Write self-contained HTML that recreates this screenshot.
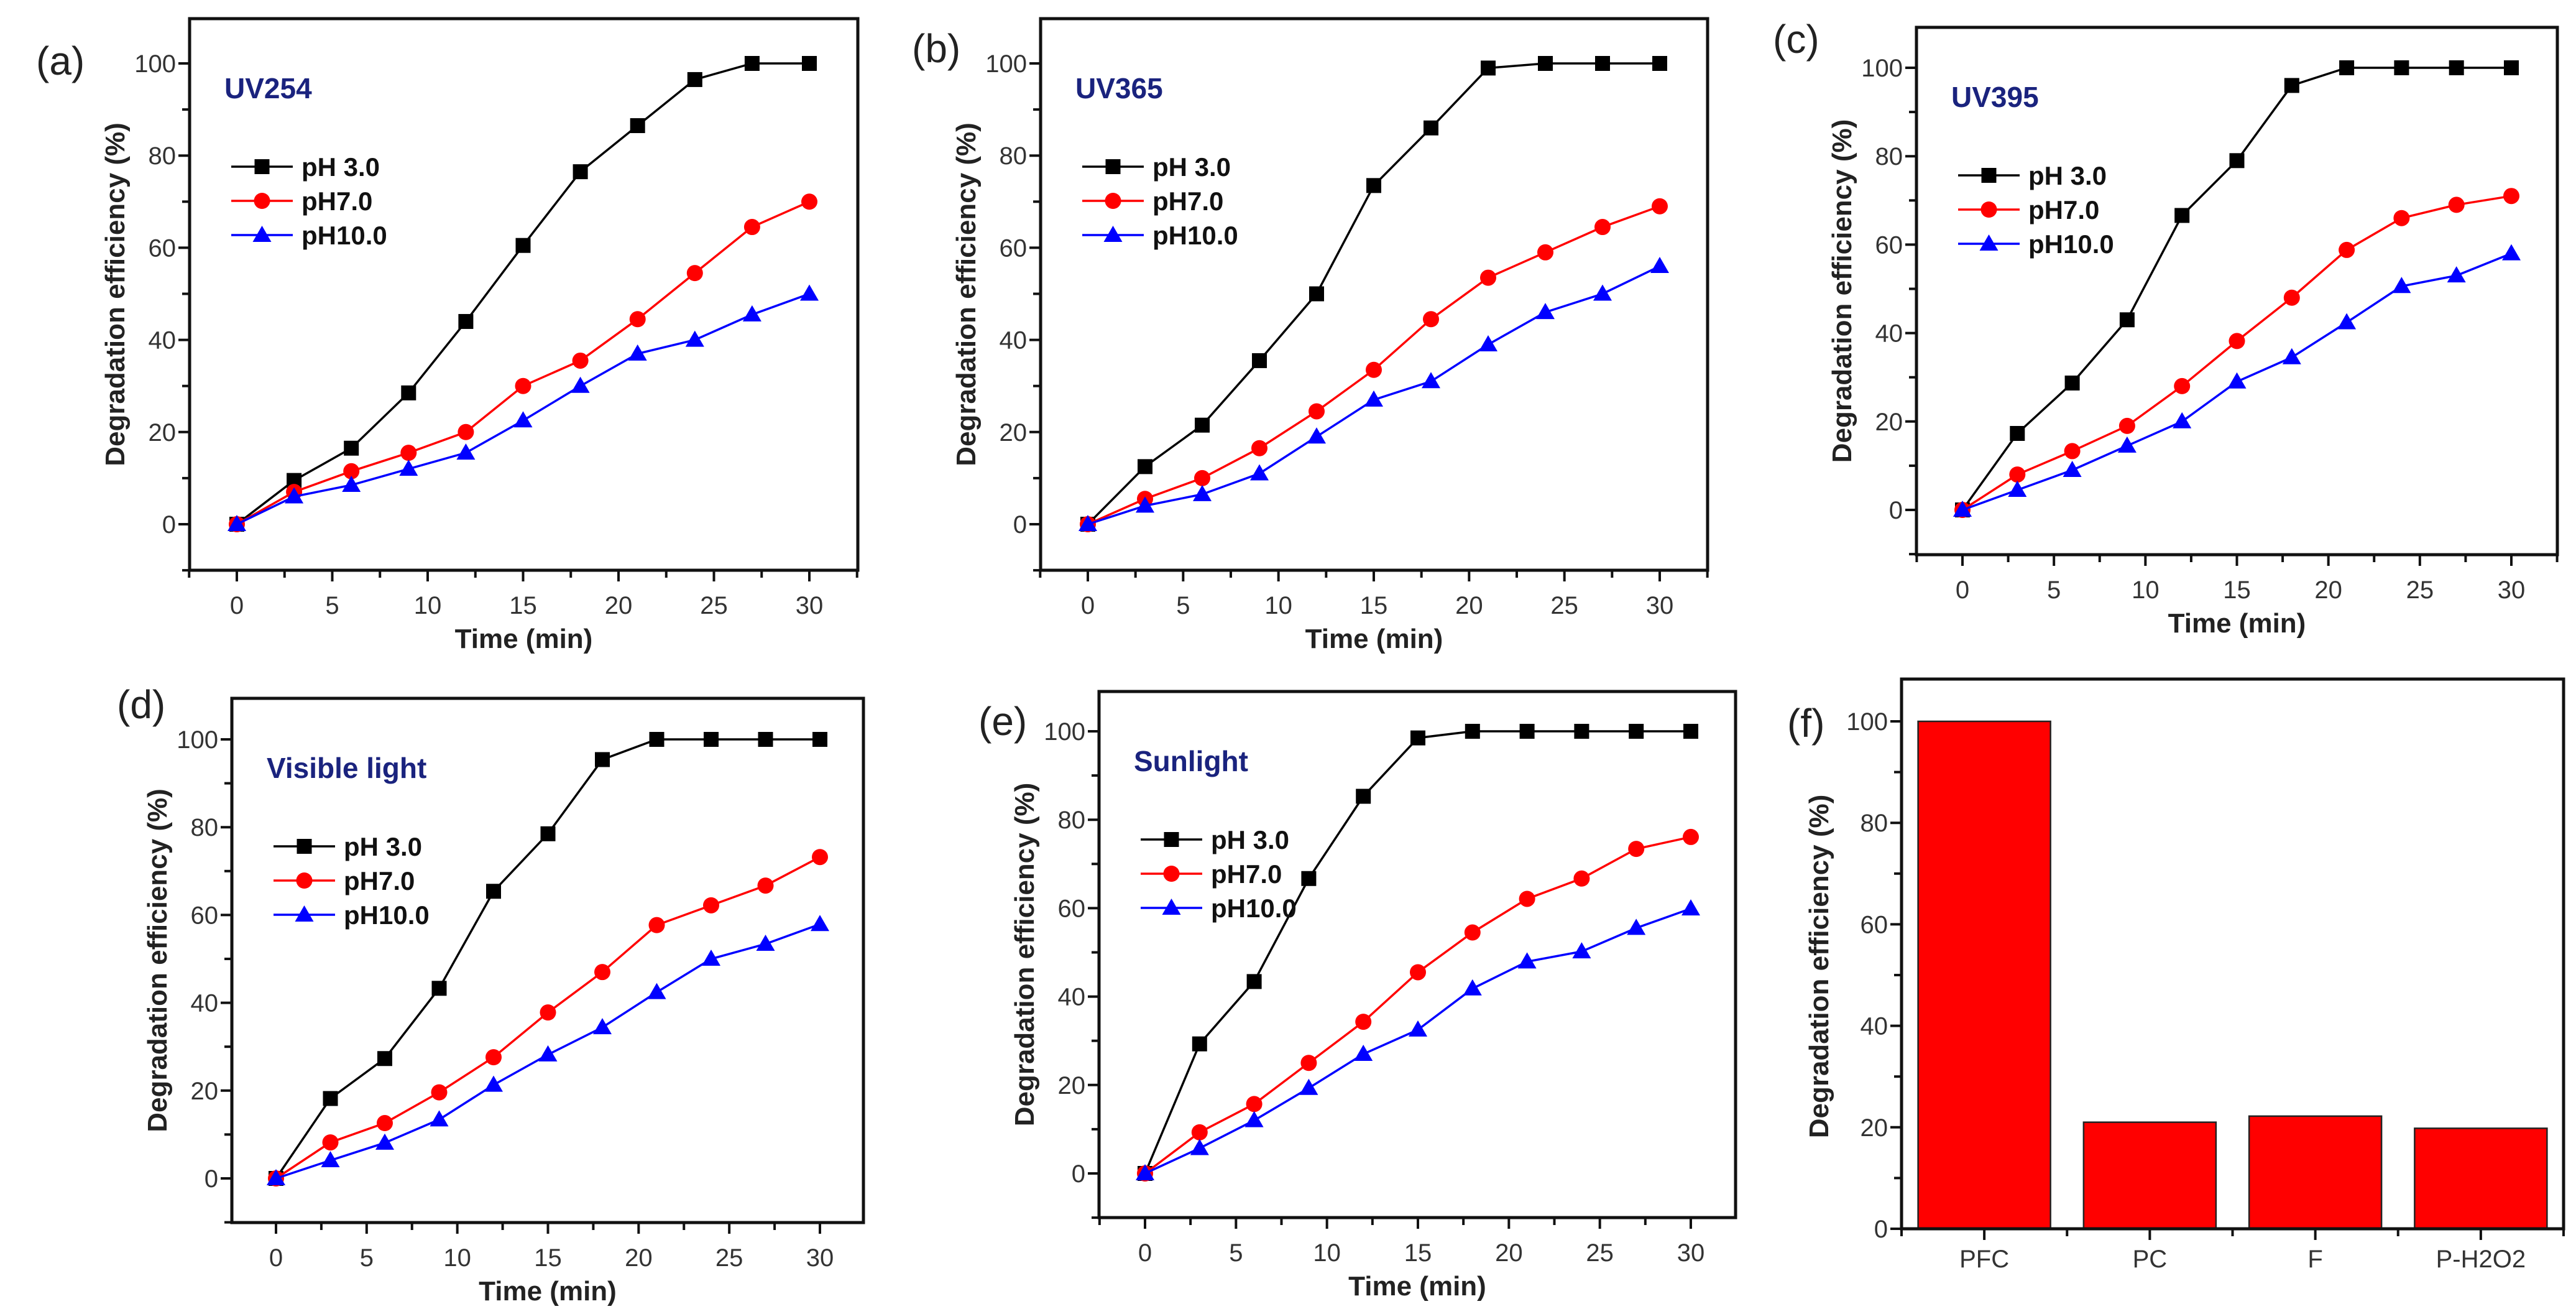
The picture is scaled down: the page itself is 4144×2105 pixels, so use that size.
<!DOCTYPE html>
<html><head><meta charset="utf-8"><style>
html,body{margin:0;padding:0;background:#fff;}
svg{display:block;}
text{font-family:"Liberation Sans Narrow","Liberation Sans",sans-serif;}
</style></head><body>
<svg id="fig" xmlns="http://www.w3.org/2000/svg" width="4144" height="2105" viewBox="0 0 4144 2105"></svg>
<script>
const timeMin = [0,3,6,9,12,15,18,21,24,27,30];
const xTickLabels = ["0","5","10","15","20","25","30"];
const yTickLabels = ["0","20","40","60","80","100"];
const seriesNames = ["pH 3.0","pH7.0","pH10.0"];

const uv254_pH3 = [0,9.5,16.5,28.5,44,60.5,76.5,86.5,96.5,100,100];
const uv254_pH7 = [0,7,11.5,15.5,20,30,35.5,44.5,54.5,64.5,70];
const uv254_pH10 = [0,6,8.5,12,15.5,22.5,30,37,40,45.5,50];

const uv365_pH3 = [0,12.5,21.5,35.5,50,73.5,86,99,100,100,100];
const uv365_pH7 = [0,5.5,10,16.5,24.5,33.5,44.5,53.5,59,64.5,69];
const uv365_pH10 = [0,4,6.5,11,19,27,31,39,46,50,56];

const uv395_pH3 = [0,17.3,28.7,43,66.6,79,96,100,100,100,100];
const uv395_pH7 = [0,8,13.3,19,28,38.2,48,58.8,66,69,71];
const uv395_pH10 = [0,4.5,9,14.5,20,29,34.5,42.4,50.6,53,58];

const vis_pH3 = [0,18.2,27.3,43.3,65.4,78.5,95.4,100,100,100,100];
const vis_pH7 = [0,8.2,12.6,19.6,27.6,37.8,47,57.7,62.2,66.7,73.2];
const vis_pH10 = [0,4.1,8.1,13.4,21.3,28.2,34.4,42.4,50,53.4,57.9];

const sun_pH3 = [0,29.3,43.4,66.7,85.3,98.5,100,100,100,100,100];
const sun_pH7 = [0,9.3,15.7,25,34.3,45.5,54.5,62.1,66.7,73.4,76.1];
const sun_pH10 = [0,5.7,12,19.3,27,32.5,41.8,47.9,50.2,55.5,59.9];

const barCategories = ["PFC","PC","F","P-H2O2"];
const barValues = [100,21,22.2,19.8];

const NS="http://www.w3.org/2000/svg";
const svg=document.getElementById('fig');
function mk(tag,attrs,parent){const e=document.createElementNS(NS,tag);for(const k in attrs)e.setAttribute(k,attrs[k]);(parent||svg).appendChild(e);return e;}

const panels=[
 {id:'a',label:'(a)',lx:58,ly:120,title:'UV254',L:305,R:1380,T:30,B:917,x0:381,x30:1302,y0:843,y100:102,s:[uv254_pH3,uv254_pH7,uv254_pH10]},
 {id:'b',label:'(b)',lx:1467,ly:100,title:'UV365',L:1674,R:2747,T:30,B:917,x0:1750,x30:2670,y0:843,y100:102,s:[uv365_pH3,uv365_pH7,uv365_pH10]},
 {id:'c',label:'(c)',lx:2852,ly:85,title:'UV395',L:3083,R:4114,T:44,B:892,x0:3157,x30:4040,y0:820,y100:109,s:[uv395_pH3,uv395_pH7,uv395_pH10]},
 {id:'d',label:'(d)',lx:188,ly:1155,title:'Visible light',L:373,R:1389,T:1123,B:1966,x0:444,x30:1319,y0:1895,y100:1189,s:[vis_pH3,vis_pH7,vis_pH10]},
 {id:'e',label:'(e)',lx:1574,ly:1182,title:'Sunlight',L:1768,R:2792,T:1112,B:1958,x0:1842,x30:2720,y0:1887,y100:1176,s:[sun_pH3,sun_pH7,sun_pH10]}
];
const colors=['#000000','#ff0000','#0000ff'];
const shapes=['square','circle','triangle'];

function marker(g,shape,cx,cy,color){
  let m;
  if(shape==='square') m=mk('rect',{x:cx-12,y:cy-12,width:24,height:24,fill:color},g);
  else if(shape==='circle') m=mk('circle',{cx:cx,cy:cy,r:13,fill:color},g);
  else m=mk('polygon',{points:`${cx},${cy-15} ${cx+15},${cy+11} ${cx-15},${cy+11}`,fill:color},g);
  return m;
}

panels.forEach(p=>{
  const g=mk('g',{});
  
  
  const xs=v=>p.x0+(p.x30-p.x0)*v/30;
  const ys=v=>p.y0+(p.y100-p.y0)*v/100;
  const lab=mk('text',{x:p.lx,y:p.ly,'font-size':64,fill:'#222','font-family':'Liberation Sans, sans-serif'},g);
  lab.textContent=p.label;
  
  
  const fr=mk('rect',{x:p.L,y:p.T,width:p.R-p.L,height:p.B-p.T,fill:'none',stroke:'#111','stroke-width':5},g);
  
  
  // x ticks
  for(let v=-2.5;v<=32.5;v+=2.5){
    const x=xs(v); if(x<p.L-1||x>p.R+1) continue;
    const major=Math.abs(v%5)<0.01;
    mk('line',{x1:x,y1:p.B,x2:x,y2:p.B+(major?18:12),stroke:'#111','stroke-width':4},g);
  }
  xTickLabels.forEach((t,i)=>{
    const tx=mk('text',{x:xs(i*5),y:p.B+70,'font-size':40,'text-anchor':'middle',fill:'#333'},g);
    tx.textContent=t;
    
    
  });
  for(let v=-10;v<=110;v+=10){
    const y=ys(v); if(y>p.B+1||y<p.T-1) continue;
    const major=v%20===0;
    mk('line',{x1:p.L,y1:y,x2:p.L-(major?18:12),y2:y,stroke:'#111','stroke-width':4},g);
  }
  yTickLabels.forEach((t,i)=>{
    const ty=mk('text',{x:p.L-22,y:ys(i*20)+14,'font-size':40,'text-anchor':'end',fill:'#333'},g);
    ty.textContent=t;
    
    
  });
  const xt=mk('text',{x:(p.L+p.R)/2,y:p.B+125,'font-size':44,'font-weight':'bold','text-anchor':'middle',fill:'#222'},g);
  xt.textContent='Time (min)';
  
  
  const ycx=p.L-105, ycy=(p.T+p.B)/2;
  const yt=mk('text',{x:ycx,y:ycy,'font-size':44,'font-weight':'bold','text-anchor':'middle',fill:'#222',transform:`rotate(-90 ${ycx} ${ycy})`},g);
  yt.textContent='Degradation efficiency (%)';
  
  
  const tt=mk('text',{x:p.L+56,y:p.T+128,'font-size':46,'font-weight':'bold',fill:'#1a237e'},g);
  tt.textContent=p.title;
  
  
  // series
  p.s.forEach((arr,si)=>{
    const sg=mk('g',{},g);
    
    
    const pts=arr.map((v,i)=>xs(timeMin[i])+','+ys(v)).join(' ');
    mk('polyline',{points:pts,fill:'none',stroke:colors[si],'stroke-width':3.5},sg);
    arr.forEach((v,i)=>{
      const m=marker(sg,shapes[si],xs(timeMin[i]),ys(v),colors[si]);
      
      
    });
  });
  // legend
  const lg=mk('g',{},g);
  
  
  seriesNames.forEach((n,i)=>{
    const ry=p.T+238+i*55;
    const lx1=p.L+67, lx2=p.L+166;
    mk('line',{x1:lx1,y1:ry,x2:lx2,y2:ry,stroke:colors[i],'stroke-width':3.5},lg);
    const m=marker(lg,shapes[i],(lx1+lx2)/2,ry,colors[i]);
    
    
    const lt=mk('text',{x:p.L+180,y:ry+15,'font-size':42,'font-weight':'bold',fill:'#111'},lg);
    lt.textContent=n;
    
    
  });
});

// panel f bar chart
(function(){
  const L=3059,R=4124,T=1092,B=1976,y0=1976,y100=1160;
  const g=mk('g',{});
  
  
  const xs=c=>L+(R-L)*(c-0.5)/4;
  const ys=v=>y0+(y100-y0)*v/100;
  const lab=mk('text',{x:2875,y:1185,'font-size':64,fill:'#222','font-family':'Liberation Sans, sans-serif'},g);
  lab.textContent='(f)';
  
  
  barValues.forEach((v,i)=>{
    const cx=xs(i+1), w=(R-L)/4*0.8;
    const b=mk('rect',{x:cx-w/2,y:ys(v),width:w,height:ys(0)-ys(v),fill:'#ff0000',stroke:'#222','stroke-width':2.5},g);
    
    
    const t=mk('text',{x:cx,y:B+62,'font-size':40,'text-anchor':'middle',fill:'#333'},g);
    t.textContent=barCategories[i];
    
    
    mk('line',{x1:cx,y1:B,x2:cx,y2:B+18,stroke:'#111','stroke-width':4},g);
  });
  for(let c=0.5;c<=4.5;c+=1){mk('line',{x1:xs(c),y1:B,x2:xs(c),y2:B+12,stroke:'#111','stroke-width':4},g);}
  const fr=mk('rect',{x:L,y:T,width:R-L,height:B-T,fill:'none',stroke:'#111','stroke-width':5},g);
  
  
  for(let v=0;v<=100;v+=10){
    const y=ys(v); const major=v%20===0;
    mk('line',{x1:L,y1:y,x2:L-(major?18:12),y2:y,stroke:'#111','stroke-width':4},g);
  }
  yTickLabels.forEach((t,i)=>{
    const ty=mk('text',{x:L-22,y:ys(i*20)+14,'font-size':40,'text-anchor':'end',fill:'#333'},g);
    ty.textContent=t;
    
    
  });
  const ycx=L-118, ycy=(T+B)/2+20;
  const yt=mk('text',{x:ycx,y:ycy,'font-size':44,'font-weight':'bold','text-anchor':'middle',fill:'#222',transform:`rotate(-90 ${ycx} ${ycy})`},g);
  yt.textContent='Degradation efficiency (%)';
  
  
})();
</script>
</body></html>
